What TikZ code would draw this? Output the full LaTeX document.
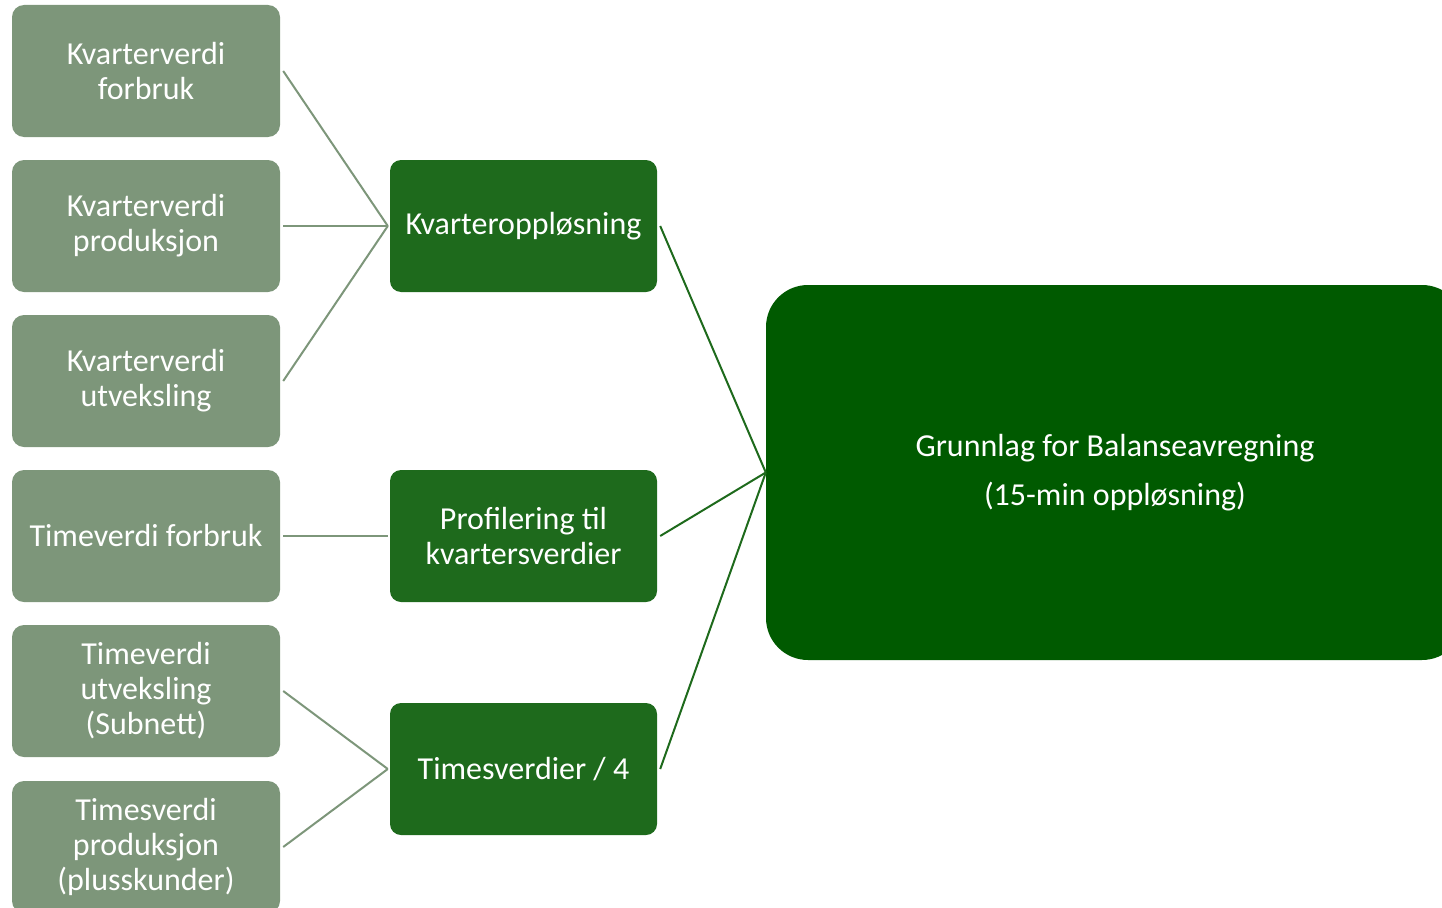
\documentclass[tikz,border=0pt]{standalone}
\usepackage{fontspec}
\setmainfont{Carlito}
\definecolor{sage}{RGB}{125,150,122}
\definecolor{midgreen}{RGB}{30,106,28}
\definecolor{darkgreen}{RGB}{0,90,0}
\begin{document}
\begin{tikzpicture}[x=1pt,y=-1pt,
  srcbox/.style={fill=sage, rounded corners=12pt, minimum width=268pt, minimum height=132pt, text=white, align=center, font=\fontsize{32}{35}\selectfont, inner sep=0pt},
  midbox/.style={fill=midgreen, rounded corners=11pt, minimum width=267pt, minimum height=132pt, text=white, align=center, font=\fontsize{32}{35}\selectfont, inner sep=0pt},
  bigbox/.style={fill=darkgreen, rounded corners=42pt, minimum width=698pt, minimum height=375pt, text=white, align=center, font=\fontsize{32}{35}\selectfont, inner sep=0pt},
  srcline/.style={draw=sage, line width=2pt},
  outline/.style={draw=midgreen, line width=2pt}]
\useasboundingbox (0,0) rectangle (1442,907);
\begin{scope}
\clip (0,0) rectangle (1442,907);
\node[srcbox] (s1) at (146,71) {Kvarterverdi\\forbruk};
\node[srcbox] (s2) at (146,226) {Kvarterverdi\\produksjon};
\node[srcbox] (s3) at (146,381) {Kvarterverdi\\utveksling};
\node[srcbox] (s4) at (146,536) {Timeverdi forbruk};
\node[srcbox] (s5) at (146,691) {Timeverdi\\utveksling\\(Subnett)};
\node[srcbox] (s6) at (146,847) {Timesverdi\\produksjon\\(plusskunder)};
\node[midbox] (m1) at (523.5,226) {Kvarteroppløsning};
\node[midbox] (m2) at (523.5,536) {Profilering til\\kvartersverdier};
\node[midbox] (m3) at (523.5,769) {Timesverdier / 4};
\node[bigbox] (b) at (1115,472.5) {Grunnlag for Balanseavregning\\[14pt](15-min oppløsning)};
\draw[srcline] ([xshift=3pt]s1.east) -- ([xshift=-2pt]m1.west);
\draw[srcline] ([xshift=3pt]s2.east) -- ([xshift=-2pt]m1.west);
\draw[srcline] ([xshift=3pt]s3.east) -- ([xshift=-2pt]m1.west);
\draw[srcline] ([xshift=3pt]s4.east) -- ([xshift=-2pt]m2.west);
\draw[srcline] ([xshift=3pt]s5.east) -- ([xshift=-2pt]m3.west);
\draw[srcline] ([xshift=3pt]s6.east) -- ([xshift=-2pt]m3.west);
\draw[outline] ([xshift=3pt]m1.east) -- (b.west);
\draw[outline] ([xshift=3pt]m2.east) -- (b.west);
\draw[outline] ([xshift=3pt]m3.east) -- (b.west);
\end{scope}
\end{tikzpicture}
\end{document}
